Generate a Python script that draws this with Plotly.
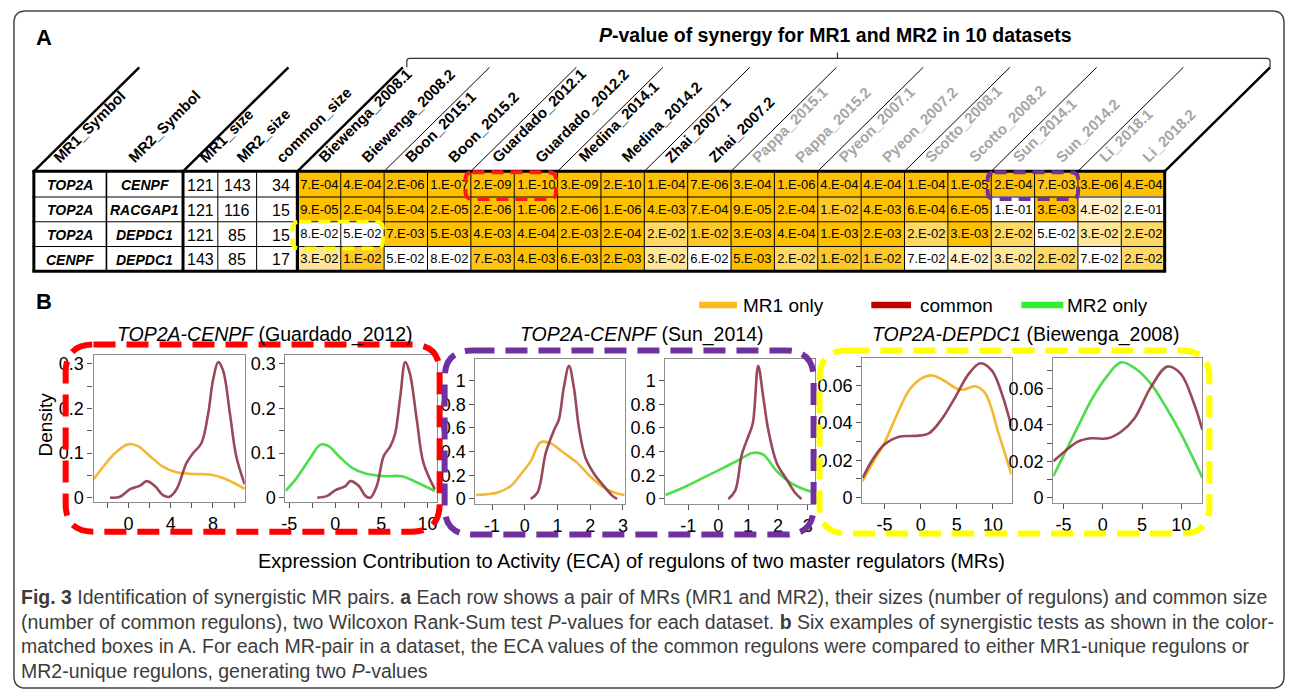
import numpy as np
import plotly.graph_objects as go

W, H = 1292, 700
FONT = "Liberation Sans, Arial, sans-serif"

# ---------------- table data ----------------
info_headers = ["MR1_Symbol", "MR2_Symbol", "MR1_size", "MR2_size", "common_size"]
mr1_symbol = ["TOP2A", "TOP2A", "TOP2A", "CENPF"]
mr2_symbol = ["CENPF", "RACGAP1", "DEPDC1", "DEPDC1"]
mr1_size = [121, 121, 121, 143]
mr2_size = [143, 116, 85, 85]
common_size = [34, 15, 15, 17]
datasets = ["Biewenga_2008.1", "Biewenga_2008.2", "Boon_2015.1", "Boon_2015.2",
            "Guardado_2012.1", "Guardado_2012.2", "Medina_2014.1", "Medina_2014.2",
            "Zhai_2007.1", "Zhai_2007.2", "Pappa_2015.1", "Pappa_2015.2",
            "Pyeon_2007.1", "Pyeon_2007.2", "Scotto_2008.1", "Scotto_2008.2",
            "Sun_2014.1", "Sun_2014.2", "Li_2018.1", "Li_2018.2"]
pvals_row1 = ["7.E-04", "4.E-04", "2.E-06", "1.E-07", "2.E-09", "1.E-10", "3.E-09", "2.E-10", "1.E-04", "7.E-06",
              "3.E-04", "1.E-06", "4.E-04", "4.E-04", "1.E-04", "1.E-05", "2.E-04", "7.E-03", "3.E-06", "4.E-04"]
pvals_row2 = ["9.E-05", "2.E-04", "5.E-04", "2.E-05", "2.E-06", "1.E-06", "2.E-06", "1.E-06", "4.E-03", "7.E-04",
              "9.E-05", "2.E-04", "1.E-02", "4.E-03", "6.E-04", "6.E-05", "1.E-01", "3.E-03", "4.E-02", "2.E-01"]
pvals_row3 = ["8.E-02", "5.E-02", "7.E-03", "5.E-03", "4.E-03", "4.E-04", "2.E-03", "2.E-04", "2.E-02", "1.E-02",
              "3.E-03", "4.E-04", "1.E-03", "2.E-03", "2.E-02", "3.E-03", "2.E-02", "5.E-02", "3.E-02", "2.E-02"]
pvals_row4 = ["3.E-02", "1.E-02", "5.E-02", "8.E-02", "7.E-03", "4.E-03", "6.E-03", "2.E-03", "3.E-02", "6.E-02",
              "5.E-03", "2.E-02", "1.E-02", "1.E-02", "7.E-02", "4.E-02", "3.E-02", "2.E-02", "7.E-02", "2.E-02"]
n_black_datasets = 10

# ---------------- density curves ----------------
guardado_mr1_x = [-3.3, -2.36, -1.25, 0.0, 0.94, 2.05, 3.3, 4.56, 6.13, 7.7, 8.96, 11.0]
guardado_mr1_y = [0.041, 0.070, 0.100, 0.120, 0.115, 0.093, 0.069, 0.057, 0.053, 0.052, 0.044, 0.020]
guardado_common_x = [-1.73, -0.8, 0.16, 1.1, 1.73, 2.5, 3.3, 3.9, 4.56, 5.5, 6.13, 6.9, 7.55, 8.0, 8.5, 8.96, 9.6, 10.2, 11.0]
guardado_common_y = [0.0, 0.002, 0.019, 0.027, 0.037, 0.026, 0.005, 0.002, 0.019, 0.078, 0.100, 0.122, 0.189, 0.263, 0.304, 0.285, 0.189, 0.093, 0.030]
guardado_mr2_x = [-5.4, -4.3, -2.84, -1.58, -0.68, 0.4, 1.83, 3.27, 5.43, 7.2, 9.0, 10.8]
guardado_mr2_y = [0.015, 0.041, 0.085, 0.119, 0.115, 0.093, 0.067, 0.054, 0.048, 0.048, 0.033, 0.015]
guardado_common2_x = [-1.94, -0.86, 0.03, 1.1, 1.65, 2.56, 3.27, 3.8, 4.5, 5.25, 5.97, 6.5, 7.05, 7.6, 8.1, 8.85, 9.57, 10.8]
guardado_common2_y = [0.0, 0.004, 0.017, 0.026, 0.037, 0.026, 0.004, 0.0, 0.026, 0.093, 0.115, 0.144, 0.226, 0.304, 0.278, 0.174, 0.078, 0.019]

sun_mr1_x = [-1.49, -0.83, -0.43, -0.12, 0.18, 0.49, 0.79, 1.19, 1.6, 2.0, 2.41, 2.77, 3.05]
sun_mr1_y = [0.033, 0.055, 0.11, 0.21, 0.32, 0.48, 0.47, 0.39, 0.305, 0.19, 0.097, 0.05, 0.033]
sun_common_x = [0.18, 0.39, 0.64, 0.89, 1.04, 1.19, 1.35, 1.5, 1.65, 1.85, 2.1, 2.41, 2.67, 2.82]
sun_common_y = [0.0, 0.055, 0.39, 0.58, 0.67, 0.94, 1.125, 0.94, 0.61, 0.35, 0.22, 0.11, 0.028, 0.0]
sun_mr2_x = [-1.77, -1.16, -0.49, 0.07, 0.62, 1.18, 1.51, 1.96, 2.4, 2.73, 3.2]
sun_mr2_y = [0.033, 0.097, 0.18, 0.25, 0.32, 0.39, 0.375, 0.235, 0.14, 0.097, 0.055]
sun_common2_x = [0.34, 0.57, 0.79, 1.01, 1.16, 1.34, 1.51, 1.68, 1.96, 2.29, 2.57, 2.79]
sun_common2_y = [0.0, 0.07, 0.375, 0.53, 0.64, 1.125, 0.86, 0.58, 0.305, 0.167, 0.055, 0.0]

biewenga_mr1_x = [-8.03, -6.66, -5.05, -3.44, -1.6, 0.0, 1.6, 3.2, 5.04, 5.95, 7.56, 8.94, 10.77, 12.55]
biewenga_mr1_y = [0.0088, 0.0185, 0.029, 0.043, 0.0574, 0.0635, 0.0653, 0.0626, 0.0582, 0.0577, 0.0595, 0.0556, 0.0344, 0.0124]
biewenga_common_x = [-8.03, -6.66, -5.05, -2.98, -0.69, 1.14, 2.97, 4.8, 6.64, 8.25, 9.85, 11.22, 12.55]
biewenga_common_y = [0.0106, 0.0203, 0.0283, 0.0326, 0.033, 0.0344, 0.0423, 0.0538, 0.0661, 0.0718, 0.0679, 0.0556, 0.0379]
biewenga_mr2_x = [-6.3, -4.84, -3.16, -1.47, 0.43, 2.33, 4.23, 6.13, 8.04, 9.94, 12.69]
biewenga_mr2_y = [0.0118, 0.0245, 0.039, 0.0535, 0.0661, 0.0743, 0.0707, 0.0625, 0.0498, 0.0353, 0.0109]
biewenga_common2_x = [-6.3, -4.84, -3.16, -1.47, 0.65, 2.33, 4.03, 6.13, 8.25, 9.94, 11.63, 12.69]
biewenga_common2_y = [0.020, 0.0254, 0.0308, 0.0326, 0.0326, 0.0362, 0.0435, 0.0607, 0.072, 0.068, 0.0516, 0.0372]

legend_labels = ["MR1 only", "common", "MR2 only"]

MR1_COLOR = "#F2B020"
COMMON_COLOR = "#8E3545"
MR2_COLOR = "#3ADA3A"

fig = go.Figure()

# pixel canvas axis (1 unit = 1 px)
fig.add_trace(go.Scatter(x=[0, W], y=[0, H], mode="markers", marker=dict(opacity=0),
                         hoverinfo="skip", showlegend=False, xaxis="x", yaxis="y"))

# ---------------- table geometry ----------------
info_edges = [30, 103, 180, 215, 254, 295]
p_left, p_right = 295, 1167
cw = (p_right - p_left) / len(datasets)
p_edges = [p_left + cw * i for i in range(len(datasets) + 1)]
row_edges = [172, 198, 223, 248, 273]

pv_rows = [pvals_row1, pvals_row2, pvals_row3, pvals_row4]
z = [[-np.log10(float(s)) for s in row] for row in pv_rows]
row_ids = ["r1", "r2", "r3", "r4"]

zmin, zmax = 1.2, 2.3
def frac(p):
    return (-np.log10(p) - zmin) / (zmax - zmin)
colorscale = [[0, "#FFFFFF"], [frac(0.05), "#FFFFFF"], [frac(0.04), "#FFF2CC"],
              [frac(0.03), "#FFE699"], [frac(0.02), "#FFD966"], [frac(0.01), "#FFC82A"], [1, "#FFC000"]]

fig.add_trace(go.Heatmap(z=z, x=datasets, y=row_ids, text=pv_rows, texttemplate="%{text}",
                         textfont=dict(family=FONT, size=13, color="black"),
                         colorscale=colorscale, zmin=zmin, zmax=zmax, showscale=False,
                         hoverinfo="skip", xaxis="x2", yaxis="y2"))

shapes = []
annotations = []

def line(x0, y0, x1, y1, w=1, color="black", dash=None):
    d = dict(type="line", xref="x", yref="y", x0=x0, y0=y0, x1=x1, y1=y1,
             line=dict(color=color, width=w), layer="above")
    if dash:
        d["line"]["dash"] = dash
    shapes.append(d)

def rrect(x0, y0, x1, y1, r, color, w, dash=None):
    p = (f"M{x0+r},{y0} L{x1-r},{y0} Q{x1},{y0} {x1},{y0+r} L{x1},{y1-r} Q{x1},{y1} {x1-r},{y1} "
         f"L{x0+r},{y1} Q{x0},{y1} {x0},{y1-r} L{x0},{y0+r} Q{x0},{y0} {x0+r},{y0} Z")
    d = dict(type="path", xref="x", yref="y", path=p, line=dict(color=color, width=w), layer="above")
    if dash:
        d["line"]["dash"] = dash
    shapes.append(d)

def text(x, y, s, size=14, color="black", xanchor="center", yanchor="middle", angle=0, family=FONT):
    annotations.append(dict(xref="x", yref="y", x=x, y=y, text=s, showarrow=False,
                            xanchor=xanchor, yanchor=yanchor, textangle=angle,
                            font=dict(family=family, size=size, color=color)))

thick_x = {30, 180, 295, 1167}
for xe in info_edges + p_edges:
    line(xe, row_edges[0], xe, row_edges[-1], w=3 if round(xe) in thick_x else (1.6 if xe == 103 else 1))
for i, ye in enumerate(row_edges):
    line(28.5, ye, 1168.5, ye, w=3 if i in (0, len(row_edges) - 1) else 1)

# header slanted lines
DIAG = 106
for b in [30, 180, 295]:
    line(b, 172, b + DIAG, 172 - DIAG + 1, w=2.5)
for b in p_edges[2:-1:2]:
    line(b, 172, b + DIAG, 172 - DIAG + 1, w=1)
line(p_edges[-1], 172, p_edges[-1] + DIAG, 172 - DIAG + 1, w=2.5)

# bracket over dataset columns
shapes.append(dict(type="path", xref="x", yref="y", layer="above",
                   path="M405,67 L405,61 Q405,58 408,58 L1270,58 Q1273,58 1273,61 L1273,67",
                   line=dict(color="#333333", width=1.2)))
line(838, 58, 838, 52, w=1.2, color="#333333")

# header labels
info_centers = [(info_edges[i] + info_edges[i + 1]) / 2 for i in range(5)]
for i, h in enumerate(info_headers):
    sx = info_centers[i] - 11 if i < 2 else info_centers[i] + 5
    text(sx - 12, 169, f"<b>{h}</b>", size=15, xanchor="left", yanchor="bottom", angle=-45)
for j, d in enumerate(datasets):
    cx = p_edges[j] + cw / 2
    col = "black" if j < n_black_datasets else "#A6A6A6"
    text(cx + 5 - 12, 169, f"<b>{d}</b>", size=15, color=col, xanchor="left", yanchor="bottom", angle=-45)

# body text
row_centers = [(row_edges[i] + row_edges[i + 1]) / 2 + 1 for i in range(4)]
for r in range(4):
    yc = row_centers[r]
    text(info_centers[0], yc, f"<b><i>{mr1_symbol[r]}</i></b>", size=14)
    text(info_centers[1], yc, f"<b><i>{mr2_symbol[r]}</i></b>", size=14)
    text(info_centers[2], yc, str(mr1_size[r]), size=16)
    text(info_centers[3], yc, str(mr2_size[r]), size=16)
    text(info_centers[4] + 4, yc, str(common_size[r]), size=16)

# highlight boxes in table
rrect(464, 173, 555, 200, 7, "#FF1A1A", 4, "12px,7px")
rrect(989, 173, 1080, 200, 7, "#7030A0", 4, "12px,7px")
rrect(290, 223, 381, 250, 7, "#FFFF00", 4, "12px,7px")

# ---------------- density panels ----------------
panels = [
    dict(frame=(90, 358, 242, 506), xr=[-3.3, 11.0], yr=[-0.0096, 0.319],
         xt=[-2, 0, 2, 4, 6, 8, 10], xtt=["", "0", "", "4", "", "8", ""],
         yt=[0, 0.05, 0.1, 0.15, 0.2, 0.25, 0.3], ytt=["0", "", "0.1", "", "0.2", "", "0.3"],
         series=[(guardado_mr1_x, guardado_mr1_y, MR1_COLOR), (guardado_common_x, guardado_common_y, COMMON_COLOR)]),
    dict(frame=(283, 358, 435, 506), xr=[-5.4, 11.0], yr=[-0.0096, 0.319],
         xt=[-5, -2.5, 0, 2.5, 5, 7.5, 10], xtt=["-5", "", "0", "", "5", "", "10"],
         yt=[0, 0.05, 0.1, 0.15, 0.2, 0.25, 0.3], ytt=["0", "", "0.1", "", "0.2", "", "0.3"],
         series=[(guardado_mr2_x, guardado_mr2_y, MR2_COLOR), (guardado_common2_x, guardado_common2_y, COMMON_COLOR)]),
    dict(frame=(474, 362, 624, 508), xr=[-1.51, 3.05], yr=[-0.042, 1.18],
         xt=[-1, 0, 1, 2, 3], xtt=["-1", "0", "1", "2", "3"],
         yt=[0, 0.2, 0.4, 0.6, 0.8, 1.0], ytt=["0", "0.2", "0.4", "0.6", "0.8", "1"],
         series=[(sun_mr1_x, sun_mr1_y, MR1_COLOR), (sun_common_x, sun_common_y, COMMON_COLOR)]),
    dict(frame=(665, 362, 815, 508), xr=[-1.77, 3.23], yr=[-0.042, 1.18],
         xt=[-1, 0, 1, 2, 3], xtt=["-1", "0", "1", "2", "3"],
         yt=[0, 0.2, 0.4, 0.6, 0.8, 1.0], ytt=["0", "0.2", "0.4", "0.6", "0.8", "1"],
         series=[(sun_mr2_x, sun_mr2_y, MR2_COLOR), (sun_common2_x, sun_common2_y, COMMON_COLOR)]),
    dict(frame=(863, 361, 1013, 507), xr=[-8.07, 12.56], yr=[-0.0028, 0.0744],
         xt=[-5, 0, 5, 10], xtt=["-5", "0", "5", "10"],
         yt=[0, 0.01, 0.02, 0.03, 0.04, 0.05, 0.06, 0.07], ytt=["0", "", "0.02", "", "0.04", "", "0.06", ""],
         series=[(biewenga_mr1_x, biewenga_mr1_y, MR1_COLOR), (biewenga_common_x, biewenga_common_y, COMMON_COLOR)]),
    dict(frame=(1055, 361, 1205, 507), xr=[-6.3, 12.7], yr=[-0.0029, 0.0765],
         xt=[-5, 0, 5, 10], xtt=["-5", "0", "5", "10"],
         yt=[0, 0.01, 0.02, 0.03, 0.04, 0.05, 0.06, 0.07], ytt=["0", "", "0.02", "", "0.04", "", "0.06", ""],
         series=[(biewenga_mr2_x, biewenga_mr2_y, MR2_COLOR), (biewenga_common2_x, biewenga_common2_y, COMMON_COLOR)]),
]

layout_axes = {}
for k, pnl in enumerate(panels):
    n = k + 3
    x0, y0, x1, y1 = pnl["frame"]
    for xs, ys, colr in pnl["series"]:
        fig.add_trace(go.Scatter(x=xs, y=ys, mode="lines", line=dict(color=colr, width=2.6, shape="spline"),
                                 opacity=0.9, hoverinfo="skip", showlegend=False,
                                 xaxis=f"x{n}", yaxis=f"y{n}"))
    layout_axes[f"xaxis{n}"] = dict(domain=[x0 / W, x1 / W], range=pnl["xr"], anchor=f"y{n}",
                                    showgrid=False, zeroline=False, showline=True, mirror=True,
                                    linecolor="#8C8C8C", linewidth=1.3, ticks="outside", ticklen=5,
                                    tickcolor="#555555", tickvals=pnl["xt"], ticktext=pnl["xtt"],
                                    tickfont=dict(family=FONT, size=18, color="black"), fixedrange=True)
    layout_axes[f"yaxis{n}"] = dict(domain=[1 - y1 / H, 1 - y0 / H], range=pnl["yr"], anchor=f"x{n}",
                                    showgrid=False, zeroline=False, showline=True, mirror=True,
                                    linecolor="#8C8C8C", linewidth=1.3, ticks="outside", ticklen=5,
                                    tickcolor="#555555", tickvals=pnl["yt"], ticktext=pnl["ytt"],
                                    tickfont=dict(family=FONT, size=18, color="black"), fixedrange=True)

# big dashed boxes in B
rrect(62, 347, 438, 536, 28, "#FF0000", 6, "22px,11px")
rrect(443, 353, 814, 539, 28, "#7030A0", 6, "22px,11px")
rrect(820, 353, 1212, 538, 28, "#FFFF00", 6, "22px,11px")

# outer frame
rrect(10, 10, 1287, 694, 12, "#444444", 1.5)

# legend
leg_x = [(699, 737, 741), (872, 912, 919), (1023, 1065, 1067)]
leg_colors = ["#FFB81C", "#C00000", "#33EE33"]
for (lx0, lx1, tx), lab, colr in zip(leg_x, legend_labels, leg_colors):
    line(lx0, 307, lx1, 307, w=6.5, color=colr)
    text(tx, 308, lab, size=19, xanchor="left")

# titles and labels
text(40, 37, "<b>A</b>", size=22)
text(40, 304, "<b>B</b>", size=22)
text(836, 34, "<b><i>P</i>-value of synergy for MR1 and MR2 in 10 datasets</b>", size=19.5)
text(262, 337, "<i>TOP2A-CENPF</i> (Guardado_2012)", size=19.5)
text(641, 337, "<i>TOP2A-CENPF</i> (Sun_2014)", size=19.5)
text(1027, 337, "<i>TOP2A-DEPDC1</i> (Biewenga_2008)", size=19.5)
text(42, 428, "Density", size=19, angle=-90)
text(631, 566, "Expression Contribution to Activity (ECA) of regulons of two master regulators (MRs)", size=20)

CAP = "#3C3C3C"
cap_lines = [
    "<b>Fig. 3</b> Identification of synergistic MR pairs. <b>a</b> Each row shows a pair of MRs (MR1 and MR2), their sizes (number of regulons) and common size",
    "(number of common regulons), two Wilcoxon Rank-Sum test <i>P</i>-values for each dataset. <b>b</b> Six examples of synergistic tests as shown in the color-",
    "matched boxes in A. For each MR-pair in a dataset, the ECA values of the common regulons were compared to either MR1-unique regulons or",
    "MR2-unique regulons, generating two <i>P</i>-values",
]
for s, yy in zip(cap_lines, [602, 627, 652, 677]):
    text(15, yy, s, size=19.5, color=CAP, xanchor="left")

fig.update_layout(
    width=W, height=H, margin=dict(l=0, r=0, t=0, b=0),
    paper_bgcolor="white", plot_bgcolor="white", showlegend=False,
    xaxis=dict(domain=[0, 1], range=[0, W], visible=False, fixedrange=True),
    yaxis=dict(domain=[0, 1], range=[H, 0], visible=False, fixedrange=True),
    xaxis2=dict(domain=[p_left / W, p_right / W], type="category", range=[-0.5, len(datasets) - 0.5],
                visible=False, anchor="y2", fixedrange=True),
    yaxis2=dict(domain=[1 - row_edges[-1] / H, 1 - row_edges[0] / H], type="category", range=[3.5, -0.5],
                visible=False, anchor="x2", fixedrange=True),
    shapes=shapes, annotations=annotations,
    **layout_axes,
)

fig.write_html("out.html", config={"displayModeBar": False},
               post_script="document.body.style.margin='0';")
